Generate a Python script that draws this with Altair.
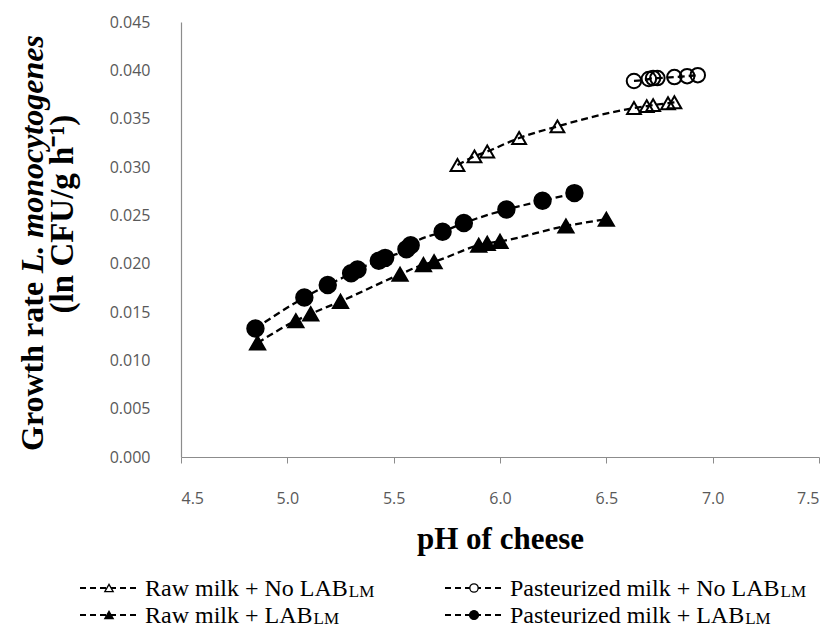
import altair as alt
import pandas as pd

# ---------------- data ----------------
series_names = [
    "Raw milk + No LAB",
    "Pasteurized milk + No LAB",
    "Raw milk + LAB",
    "Pasteurized milk + LAB",
]

ph_raw_nolab = [5.80, 5.88, 5.94, 6.09, 6.27, 6.63, 6.69, 6.72, 6.79, 6.82]
gr_raw_nolab = [0.0302, 0.0311, 0.0316, 0.0330, 0.0342, 0.0361, 0.0363, 0.0364, 0.0366, 0.0367]

ph_past_nolab = [6.63, 6.70, 6.72, 6.74, 6.82, 6.88, 6.93]
gr_past_nolab = [0.0389, 0.0391, 0.0392, 0.0392, 0.0393, 0.0394, 0.0395]

ph_raw_lab = [4.86, 5.04, 5.11, 5.25, 5.53, 5.64, 5.69, 5.90, 5.94, 6.00, 6.31, 6.50]
gr_raw_lab = [0.0118, 0.0141, 0.0148, 0.0161, 0.0189, 0.0199, 0.0202, 0.0219, 0.0221, 0.0223, 0.0239, 0.0246]

ph_past_lab = [4.85, 5.08, 5.19, 5.30, 5.33, 5.43, 5.46, 5.56, 5.58, 5.73, 5.83, 6.03, 6.20, 6.35]
gr_past_lab = [0.0133, 0.0165, 0.0178, 0.0190, 0.0194, 0.0203, 0.0206, 0.0215, 0.0219, 0.0233, 0.0242, 0.0256, 0.0265, 0.0273]

x_ticks = [4.5, 5.0, 5.5, 6.0, 6.5, 7.0, 7.5]
y_ticks = [0.000, 0.005, 0.010, 0.015, 0.020, 0.025, 0.030, 0.035, 0.040, 0.045]

all_ph = [ph_raw_nolab, ph_past_nolab, ph_raw_lab, ph_past_lab]
all_gr = [gr_raw_nolab, gr_past_nolab, gr_raw_lab, gr_past_lab]

rows = []
for name, phs, grs in zip(series_names, all_ph, all_gr):
    for p, g in zip(phs, grs):
        rows.append({"series": name, "ph": p, "gr": g})
df = pd.DataFrame(rows)

# ---------------- styles ----------------
W, H = 638, 435
PAD = {"left": 173, "top": 14, "right": 8, "bottom": 173}
SERIF = "Liberation Serif"
SANS = "Open Sans"

shapes = ["triangle-up", "circle", "triangle-up", "circle"]
filled = [False, False, True, True]
sizes = [190, 210, 230, 270]
leg_sizes = [70, 70, 70, 80]

x_enc = alt.X(
    "ph:Q",
    scale=alt.Scale(domain=[4.5, 7.5], nice=False, zero=False),
    axis=alt.Axis(values=x_ticks, format=".1f", title="pH of cheese"),
)
y_enc = alt.Y(
    "gr:Q",
    scale=alt.Scale(domain=[0, 0.045], nice=False),
    axis=alt.Axis(values=y_ticks, format=".3f", title=None),
)

base = alt.Chart(df)

lines = base.mark_line(
    color="black", strokeWidth=2.3, strokeDash=[7, 4], interpolate="monotone"
).encode(x=x_enc, y=y_enc, detail="series:N")

point_layers = []
for name, shp, fl, sz in zip(series_names, shapes, filled, sizes):
    point_layers.append(
        base.transform_filter(alt.datum.series == name)
        .mark_point(
            shape=shp,
            filled=fl,
            color="black",
            stroke="black",
            strokeWidth=2,
            size=sz,
            opacity=1,
        )
        .encode(x=x_enc, y=y_enc)
    )

data_layer = alt.layer(lines, *point_layers)

# ---------------- y-axis title (mixed upright / italic) ----------------
one = alt.Data(values=[{}])
bold_w = {"G": .778, "r": .444, "o": .5, "w": .722, "t": .333, "h": .556, " ": .25, "a": .5, "e": .444}
TFS = 32
t1_text = "Growth rate "
t1_w = sum(bold_w[c] for c in t1_text) * TFS
t1_bottom = 429  # view-y where line 1 starts (bottom)

ytitle_a = alt.Chart(one).mark_text(
    text=t1_text, angle=270, align="left", baseline="middle",
    font=SERIF, fontSize=TFS, fontWeight="bold", color="black",
).encode(x=alt.value(-148), y=alt.value(t1_bottom))
ytitle_b = alt.Chart(one).mark_text(
    text="L. monocytogenes", angle=270, align="left", baseline="middle",
    font=SERIF, fontSize=TFS, fontWeight="bold", fontStyle="italic", color="black",
).encode(x=alt.value(-148), y=alt.value(t1_bottom - t1_w))
ytitle_c = alt.Chart(one).mark_text(
    text="(ln CFU/g h\u207b\u00b9)", angle=270, align="center", baseline="middle",
    font=SERIF, fontSize=33, fontWeight="bold", color="black",
).encode(x=alt.value(-118), y=alt.value(192))

# ---------------- legend (built by hand, two columns) ----------------
reg_w = {" ": .25, "R": .667, "a": .444, "w": .722, "m": .778, "i": .278, "l": .278,
         "k": .5, "+": .564, "N": .722, "o": .5, "L": .611, "A": .722, "B": .667,
         "P": .556, "s": .389, "t": .278, "e": .444, "u": .5, "r": .333, "z": .444, "d": .5}
LFS = 24
SUBFS = 17
col_x = [-101, 264]       # start of dashed line, view coords
row_y = [574, 601]        # text baselines, view coords
order = [(0, 0), (1, 0), (0, 1), (1, 1)]  # (col,row) for each series

legend_layers = []
for name, shp, fl, lsz, (c, r) in zip(series_names, shapes, filled, leg_sizes, order):
    x0 = col_x[c]
    yb = row_y[r]
    ym = yb - 8
    legend_layers.append(
        alt.Chart(one).mark_rule(color="black", strokeWidth=2, strokeDash=[6, 4]).encode(
            x=alt.value(x0), x2=alt.value(x0 + 60), y=alt.value(ym)
        )
    )
    legend_layers.append(
        alt.Chart(one).mark_point(
            shape=shp, filled=True, fill="black" if fl else "white",
            stroke="black", strokeWidth=1.3, size=lsz, opacity=1,
        ).encode(x=alt.value(x0 + 29), y=alt.value(ym))
    )
    tx = x0 + 65
    legend_layers.append(
        alt.Chart(one).mark_text(
            text=name, align="left", baseline="alphabetic",
            font=SERIF, fontSize=LFS, color="black",
        ).encode(x=alt.value(tx), y=alt.value(yb))
    )
    tw = sum(reg_w[ch] for ch in name) * LFS
    legend_layers.append(
        alt.Chart(one).mark_text(
            text="LM", align="left", baseline="alphabetic",
            font=SERIF, fontSize=SUBFS, color="black",
        ).encode(x=alt.value(tx + tw + 1), y=alt.value(yb + 1))
    )

chart = (
    alt.layer(data_layer, ytitle_a, ytitle_b, ytitle_c, *legend_layers)
    .properties(
        width=W,
        height=H,
        autosize=alt.AutoSizeParams(type="none"),
        padding=PAD,
        background="white",
    )
    .configure_view(stroke=None)
    .configure_axisX(
        domainColor="#8c8c8c", domainWidth=1.2, tickColor="#8c8c8c", tickSize=6,
        labelColor="#595959", labelFont=SANS, labelFontSize=16, labelPadding=27,
        titleFont=SERIF, titleFontSize=31, titleFontWeight="bold", titleColor="black",
        titlePadding=18, grid=False,
    )
    .configure_axisY(
        domainColor="#8c8c8c", domainWidth=1.2, ticks=False,
        labelColor="#595959", labelFont=SANS, labelFontSize=16, labelPadding=31,
        grid=False,
    )
)

chart.save("out.html", embed_options={"renderer": "svg", "actions": False})
